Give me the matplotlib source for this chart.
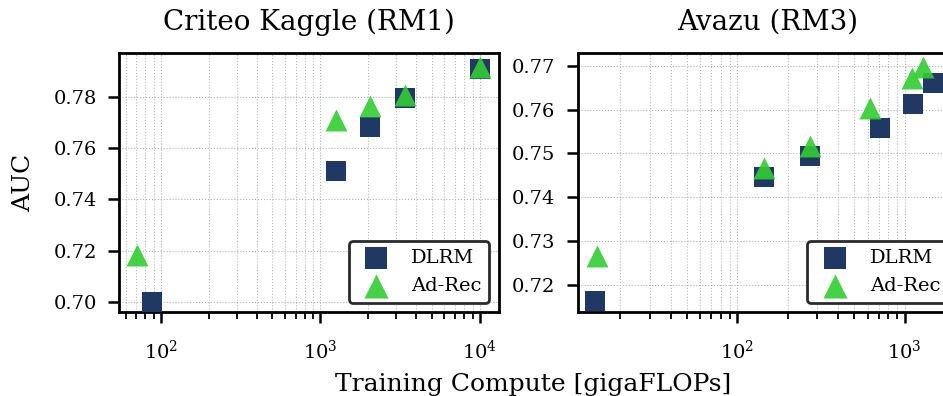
import matplotlib
matplotlib.use("Agg")
import matplotlib.pyplot as plt

plt.rcParams['font.family'] = ['DejaVu Serif']
plt.rcParams['mathtext.fontset'] = 'dejavusans'

# Criteo Kaggle (RM1)
criteo_dlrm_x = [88, 1254, 2044, 3390, 10000]
criteo_dlrm_y = [0.7000, 0.7512, 0.7683, 0.7796, 0.7909]
criteo_adrec_x = [71, 1260, 2050, 3390, 10000]
criteo_adrec_y = [0.7184, 0.7709, 0.7764, 0.7807, 0.7917]

# Avazu (RM3)
avazu_dlrm_x = [14.1, 145, 270, 709, 1117, 1476]
avazu_dlrm_y = [0.7162, 0.7447, 0.7494, 0.7559, 0.7613, 0.7662]
avazu_adrec_x = [14.4, 144, 272, 617, 1106, 1294]
avazu_adrec_y = [0.7266, 0.7466, 0.7518, 0.7603, 0.7672, 0.7698]

titles = ["Criteo Kaggle (RM1)", "Avazu (RM3)"]
labels = ["DLRM", "Ad-Rec"]
navy = "#203864"
green = "#32cd32"

fig = plt.figure(figsize=(9.43, 3.96), dpi=100)
ax1 = fig.add_axes([0.1262, 0.2114, 0.403, 0.654])
ax2 = fig.add_axes([0.6126, 0.2114, 0.403, 0.654])

data = [
    (ax1, criteo_dlrm_x, criteo_dlrm_y, criteo_adrec_x, criteo_adrec_y,
     (54.6, 13200), (0.6961, 0.7969), [0.70, 0.72, 0.74, 0.76, 0.78]),
    (ax2, avazu_dlrm_x, avazu_dlrm_y, avazu_adrec_x, avazu_adrec_y,
     (11.1, 2075), (0.7137, 0.7729), [0.72, 0.73, 0.74, 0.75, 0.76, 0.77]),
]

for (ax, dx, dy, ax_, ay, xl, yl, yt), title in zip(data, titles):
    ax.scatter(dx, dy, marker='s', s=205, color=navy, label=labels[0], zorder=3, linewidths=0)
    ax.scatter(ax_, ay, marker='^', s=250, color=green, alpha=0.9, label=labels[1], zorder=4, linewidths=0)
    ax.set_xscale('log')
    ax.set_xlim(*xl)
    ax.set_ylim(*yl)
    ax.set_yticks(yt)
    ax.set_yticklabels([f"{v:.2f}" for v in yt])
    ax.grid(True, which='major', axis='both', color='#b0b0b0', linestyle=':', linewidth=0.8)
    ax.grid(True, which='minor', axis='x', color='#b8b8b8', linestyle=':', linewidth=0.8)
    ax.set_axisbelow(True)
    for sp in ax.spines.values():
        sp.set_linewidth(2.0)
        sp.set_color('black')
    ax.tick_params(axis='both', which='major', labelsize=14, length=8, width=1.8)
    ax.tick_params(axis='y', which='major', pad=8)
    ax.tick_params(axis='x', which='minor', length=5, width=1.3)
    ax.tick_params(axis='x', which='major', pad=12)
    ax.set_title(title, fontsize=20, pad=17)
    leg = ax.legend(loc='lower right', fontsize=14, frameon=True, fancybox=True,
                    borderaxespad=0.5, scatterpoints=1, markerscale=1.1)
    leg.get_frame().set_edgecolor('#2a2a2a')
    leg.get_frame().set_linewidth(2.0)
    leg.get_frame().set_alpha(1)

ax1.set_ylabel("AUC", fontsize=18, labelpad=13)
fig.text(0.565, 0.012, "Training Compute [gigaFLOPs]", ha='center', va='baseline', fontsize=18)

fig.savefig("out.png", dpi=100)
